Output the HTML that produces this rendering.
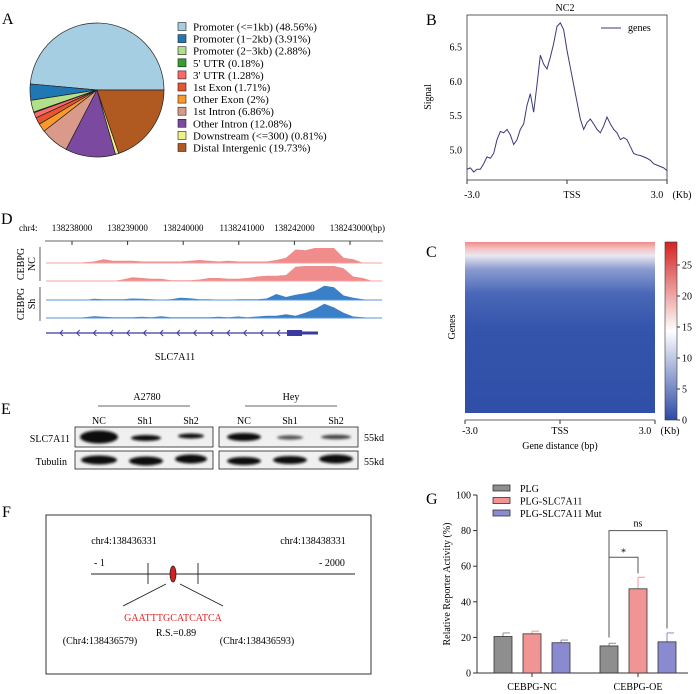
<!DOCTYPE html>
<html><head><meta charset="utf-8"><style>
html,body{margin:0;padding:0;background:#fff;}
svg{display:block;font-family:"Liberation Serif",serif;}
</style></head><body>
<svg id="fig" width="696" height="694" viewBox="0 0 696 694" xmlns="http://www.w3.org/2000/svg">
<defs>
<filter id="blur" x="-20%" y="-50%" width="140%" height="200%"><feGaussianBlur stdDeviation="1.2"/></filter>
<linearGradient id="hm" x1="0" y1="0" x2="0" y2="1">
<stop offset="0" stop-color="#f08a8a"/><stop offset="0.04" stop-color="#f4c4c4"/><stop offset="0.08" stop-color="#e8e8f2"/><stop offset="0.16" stop-color="#8a9bd0"/><stop offset="0.3" stop-color="#4a68b8"/><stop offset="0.5" stop-color="#3554ab"/><stop offset="1" stop-color="#2f4fa8"/>
</linearGradient>
<linearGradient id="cb" x1="0" y1="1" x2="0" y2="0">
<stop offset="0" stop-color="#2c4aa6"/><stop offset="0.5" stop-color="#ffffff"/><stop offset="1" stop-color="#d42222"/>
</linearGradient>
</defs>

<g font-size="16">
<text x="2" y="24">A</text>
<text x="426" y="25">B</text>
<text x="426" y="257">C</text>
<text x="1" y="224">D</text>
<text x="1" y="414">E</text>
<text x="2" y="517">F</text>
<text x="426" y="504">G</text>
</g>

<g id="pie"></g>
<g id="pieLegend" font-size="11"></g>

<g id="lineB">
<text x="565" y="11" font-size="10" text-anchor="middle">NC2</text>
<rect x="467" y="15" width="200" height="165" fill="none" stroke="#333" stroke-width="0.8"/>
<text transform="translate(431,97) rotate(-90)" font-size="10" text-anchor="middle">Signal</text>
<line x1="601" y1="28" x2="621" y2="28" stroke="#3a3a7a" stroke-width="1"/>
<text x="628" y="31" font-size="10">genes</text>
</g>

<g id="heatC">
<rect x="465" y="242" width="190" height="171" fill="url(#hm)"/>
<rect x="665" y="242" width="12" height="178" fill="url(#cb)" stroke="#333" stroke-width="0.6"/>
<text transform="translate(455,327) rotate(-90)" font-size="10" text-anchor="middle">Genes</text>
<line x1="465" y1="420" x2="655" y2="420" stroke="#333" stroke-width="0.8"/>
<line x1="465" y1="420" x2="465" y2="424" stroke="#333"/><line x1="560" y1="420" x2="560" y2="424" stroke="#333"/><line x1="655" y1="420" x2="655" y2="424" stroke="#333"/>
<g font-size="10" text-anchor="middle">
<text x="470" y="434">-3.0</text>
<text x="560" y="434">TSS</text>
<text x="645" y="434">3.0</text>
<text x="670" y="434">(Kb)</text>
<text x="560" y="449">Gene distance (bp)</text>
</g>
<g id="cbTicks" font-size="10"></g>
</g>

<g id="trackD" font-size="10">
<text x="19" y="231" font-size="9">chr4:</text>
<line x1="45" y1="241" x2="383" y2="241" stroke="#333" stroke-width="0.8"/>
<text x="370" y="231" font-size="9">(bp)</text>
<line x1="40" y1="247" x2="40" y2="281" stroke="#333" stroke-width="0.8"/>
<line x1="40" y1="287" x2="40" y2="321" stroke="#333" stroke-width="0.8"/>
<text transform="translate(24,264) rotate(-90)" text-anchor="middle">CEBPG</text>
<text transform="translate(35,264) rotate(-90)" text-anchor="middle">NC</text>
<text transform="translate(24,304) rotate(-90)" text-anchor="middle">CEBPG</text>
<text transform="translate(35,304) rotate(-90)" text-anchor="middle">Sh</text>
<line x1="46" y1="333" x2="318" y2="333" stroke="#3a3aa0" stroke-width="1.2"/>
<rect x="287" y="330" width="15" height="6" fill="#3a3aa0"/>
<rect x="302" y="331.5" width="16" height="3" fill="#3a3aa0"/>
<text x="175" y="360" text-anchor="middle">SLC7A11</text>
<g id="chev" fill="none" stroke="#3a3aa0" stroke-width="1"></g>
</g>

<g id="blotE" font-size="10">
<text x="147" y="400" text-anchor="middle">A2780</text>
<line x1="98" y1="406" x2="190" y2="406" stroke="#333" stroke-width="0.8"/>
<text x="291" y="400" text-anchor="middle">Hey</text>
<line x1="245" y1="406" x2="337" y2="406" stroke="#333" stroke-width="0.8"/>
<g text-anchor="middle">
<text x="99" y="424">NC</text><text x="145" y="424">Sh1</text><text x="191" y="424">Sh2</text>
<text x="244" y="424">NC</text><text x="290" y="424">Sh1</text><text x="336" y="424">Sh2</text>
</g>
<text x="70" y="442" text-anchor="end">SLC7A11</text>
<text x="67" y="465" text-anchor="end">Tubulin</text>
<text x="364" y="441">55kd</text>
<text x="364" y="465">55kd</text>
<rect x="75" y="427" width="138" height="20" fill="#f0f0f0" stroke="#222" stroke-width="0.8"/>
<rect x="219" y="427" width="139" height="20" fill="#f0f0f0" stroke="#222" stroke-width="0.8"/>
<rect x="75" y="451" width="138" height="18" fill="#f0f0f0" stroke="#222" stroke-width="0.8"/>
<rect x="219" y="451" width="139" height="18" fill="#f0f0f0" stroke="#222" stroke-width="0.8"/>
<g filter="url(#blur)" fill="#111">
<ellipse cx="99" cy="437" rx="19" ry="6.5"/><ellipse cx="146" cy="438" rx="15" ry="3"/><ellipse cx="191" cy="436" rx="13" ry="2.5"/>
<ellipse cx="244" cy="437" rx="17" ry="4"/><ellipse cx="290" cy="437.5" rx="13" ry="2.2" fill="#555"/><ellipse cx="336" cy="437" rx="15" ry="2.3" fill="#444"/>
<ellipse cx="99" cy="460" rx="18" ry="4.5"/><ellipse cx="146" cy="461" rx="17" ry="4.5"/><ellipse cx="191" cy="459" rx="16" ry="4.5"/>
<ellipse cx="244" cy="461" rx="17" ry="4"/><ellipse cx="290" cy="460" rx="17" ry="4"/><ellipse cx="336" cy="459" rx="17" ry="4.5"/>
</g>
</g>

<g id="motifF" font-size="10">
<rect x="46" y="515" width="325" height="159" fill="none" stroke="#333" stroke-width="1"/>
<text x="124" y="544" text-anchor="middle">chr4:138436331</text>
<text x="313" y="544" text-anchor="middle">chr4:138438331</text>
<text x="94" y="566">- 1</text>
<text x="319" y="566">- 2000</text>
<line x1="91" y1="574" x2="355" y2="574" stroke="#222" stroke-width="0.9"/>
<line x1="148" y1="563" x2="148" y2="584" stroke="#222" stroke-width="0.9"/>
<line x1="198" y1="563" x2="198" y2="584" stroke="#222" stroke-width="0.9"/>
<ellipse cx="173" cy="574" rx="3" ry="8" fill="#d62020" stroke="#222" stroke-width="0.8"/>
<line x1="166" y1="584" x2="123" y2="606" stroke="#222" stroke-width="0.9"/>
<line x1="180" y1="584" x2="223" y2="606" stroke="#222" stroke-width="0.9"/>
<text x="173" y="621" text-anchor="middle" fill="#e02424">GAATTTGCATCATCA</text>
<text x="176" y="636" text-anchor="middle">R.S.=0.89</text>
<text x="100" y="644" text-anchor="middle">(Chr4:138436579)</text>
<text x="257" y="644" text-anchor="middle">(Chr4:138436593)</text>
</g>

<g id="barG" font-size="10"></g>
</svg>
<script>
const pieLabels = ["Promoter (<=1kb) (48.56%)","Promoter (1\u22122kb) (3.91%)","Promoter (2\u22123kb) (2.88%)","5' UTR (0.18%)","3' UTR (1.28%)","1st Exon (1.71%)","Other Exon (2%)","1st Intron (6.86%)","Other Intron (12.08%)","Downstream (<=300) (0.81%)","Distal Intergenic (19.73%)"];
const pieValues = [48.56,3.91,2.88,0.18,1.28,1.71,2,6.86,12.08,0.81,19.73];
const pieColors = ["#a6cee3","#1f78b4","#b2df8a","#33a02c","#fb6a6a","#e8552f","#fb9a29","#d99a8a","#7b4aa0","#f0f08a","#b05a22"];
const NS = "http://www.w3.org/2000/svg";
function mk(tag, attrs, parent){const e=document.createElementNS(NS,tag);for(const k in attrs)e.setAttribute(k,attrs[k]);parent.appendChild(e);return e;}
(function(){
  const g=document.getElementById('pie'), lg=document.getElementById('pieLegend');
  const cx=97, cy=90, r=67; const tot=pieValues.reduce((a,b)=>a+b,0);
  let a0=0;
  pieValues.forEach((v,i)=>{
    const a1=a0+v/tot*2*Math.PI;
    const x0=cx+r*Math.cos(a0), y0=cy-r*Math.sin(a0), x1=cx+r*Math.cos(a1), y1=cy-r*Math.sin(a1);
    const large=(a1-a0)>Math.PI?1:0;
    const p=mk('path',{d:`M${cx},${cy} L${x0},${y0} A${r},${r} 0 ${large} 0 ${x1},${y1} Z`,fill:pieColors[i],stroke:'#222','stroke-width':0.7},g);
    
    
    a0=a1;
    const y=27+i*12.1;
    const s=mk('rect',{x:178,y:y-4.5,width:8,height:8,fill:pieColors[i],stroke:'#222','stroke-width':0.6},lg);
    
    
    const t=mk('text',{x:193,y:y+3.5},lg); t.textContent=pieLabels[i];
    
    
  });
})();

const profX = [-3.0,-2.9,-2.8,-2.7,-2.6,-2.5,-2.4,-2.3,-2.2,-2.1,-2.0,-1.9,-1.8,-1.7,-1.6,-1.5,-1.4,-1.3,-1.2,-1.1,-1.0,-0.9,-0.8,-0.7,-0.6,-0.5,-0.4,-0.3,-0.2,-0.1,0,0.1,0.2,0.3,0.4,0.5,0.6,0.7,0.8,0.9,1.0,1.1,1.2,1.3,1.4,1.5,1.6,1.7,1.8,1.9,2.0,2.1,2.2,2.3,2.4,2.5,2.6,2.7,2.8,2.9,3.0];
const profY = [4.72,4.74,4.68,4.72,4.72,4.80,4.90,4.88,4.95,5.15,5.27,5.25,5.30,5.22,5.08,5.15,5.30,5.38,5.65,5.82,5.55,5.95,6.38,6.25,6.18,6.35,6.55,6.80,6.85,6.75,6.45,6.20,5.95,5.70,5.45,5.30,5.40,5.45,5.38,5.30,5.25,5.35,5.48,5.38,5.30,5.25,5.15,5.18,5.15,5.05,4.95,4.93,4.92,4.90,4.88,4.85,4.80,4.78,4.76,4.74,4.70];
const profYTicks = [5.0,5.5,6.0,6.5];
const profXTicks = ["-3.0","TSS","3.0"];
(function(){
  const g=document.getElementById('lineB');
  const sx=v=>467+(v+3)/6*200, sy=v=>150-(v-5)*68.7;
  const pts=profX.map((x,i)=>sx(x)+','+sy(profY[i])).join(' ');
  const pl=mk('polyline',{points:pts,fill:'none',stroke:'#3a3a7a','stroke-width':1},g);
  
  
  profYTicks.forEach(v=>{
    const t=mk('text',{x:462,y:sy(v)+3.5,'font-size':10,'text-anchor':'end'},g); t.textContent=v.toFixed(1);
    
    
  });
  profXTicks.forEach((s,i)=>{
    const x=467+i*100;
    mk('line',{x1:x,y1:180,x2:x,y2:184,stroke:'#333'},g);
    const t=mk('text',{x:i==2?x-10:x+5,y:198,'font-size':10,'text-anchor':'middle'},g); t.textContent=s;
    
    
  });
  const u=mk('text',{x:682,y:198,'font-size':10,'text-anchor':'middle'},g); u.textContent='(Kb)';
  
  
})();

const cbTicks = [0,5,10,15,20,25];
(function(){
  const g=document.getElementById('cbTicks');
  cbTicks.forEach(v=>{
    const y=420-v*6.2;
    mk('line',{x1:677,y1:y,x2:680,y2:y,stroke:'#333'},g);
    const t=mk('text',{x:682,y:y+3.5},g); t.textContent=v;
    
    
  });
})();

const genomeTicks = ["138238000","138239000","138240000","1138241000","138242000","138243000"];
const trackNC1 = [0,0,0,0,0.05,0.1,0.25,0.15,0.15,0.15,0.1,0.1,0.1,0.1,0.1,0.15,0.2,0.15,0.1,0.15,0.1,0.1,0.1,0.1,0.2,0.35,0.9,0.85,1,1,1,0.35,0.25,0.02,0,0];
const trackNC2 = [0,0,0,0,0,0,0,0,0.1,0.25,0.2,0.15,0.15,0.05,0.05,0.05,0.1,0.2,0.2,0.15,0.15,0.2,0.3,0.35,0.35,0.4,0.95,1,1,1,1,0.85,0.3,0.2,0,0];
const trackSh1 = [0,0,0,0,0,0.08,0.05,0.05,0.05,0.1,0.08,0.05,0.02,0.05,0.15,0.12,0.05,0.05,0.02,0.02,0.05,0.05,0.05,0.1,0.4,0.2,0.35,0.45,0.6,0.95,0.85,0.3,0.15,0.05,0,0];
const trackSh2 = [0,0,0,0,0.05,0.12,0.08,0.05,0.05,0.05,0.08,0.05,0.12,0.05,0.05,0.05,0.05,0.05,0.08,0.05,0.1,0.05,0.1,0.15,0.15,0.25,0.15,0.35,0.6,0.95,0.7,0.35,0.1,0.05,0,0];
(function(){
  const g=document.getElementById('trackD');
  genomeTicks.forEach((s,i)=>{
    const x=72+i*55.6;
    mk('line',{x1:x,y1:241,x2:x,y2:245,stroke:'#333'},g);
    const t=mk('text',{x:x+(i==3?3:0),y:231,'text-anchor':'middle','font-size':9},g); t.textContent=s;
    
    
  });
  const tracks=[[trackNC1,263,'#f08c8c','#f4a0a0'],[trackNC2,281,'#f08c8c','#f4a0a0'],[trackSh1,300,'#3a80c8','#5a96d4'],[trackSh2,318,'#3a80c8','#5a96d4']];
  tracks.forEach(([arr,base,fill,line],k)=>{
    const step=(382-46)/(arr.length-1);
    let d=`M46,${base}`;
    arr.forEach((v,i)=>{d+=` L${46+i*step},${base-v*15}`;});
    d+=` L382,${base} Z`;
    const p=mk('path',{d:d,fill:fill},g);
    
    
    mk('line',{x1:46,y1:base,x2:382,y2:base,stroke:line,'stroke-width':1},g);
  });
  const ch=document.getElementById('chev');
  for(let i=0;i<14;i++){const x=60+i*16.7;mk('polyline',{points:`${x+3},${330} ${x},${333} ${x+3},${336}`},ch);}
})();

const barGroups = ["CEBPG-NC","CEBPG-OE"];
const barSeries = ["PLG","PLG-SLC7A11","PLG-SLC7A11 Mut"];
const barValues = [[20.5,22,17],[15.2,47.3,17.5]];
const barErrors = [[2,1.5,1.5],[1.5,6.5,5]];
const barYTicks = [0,20,40,60,80,100];
(function(){
  const g=document.getElementById('barG');
  const colors=['#8e8e8e','#f09494','#8a8ad0'];
  const sy=v=>673-v*1.78;
  mk('line',{x1:477,y1:495,x2:477,y2:673,stroke:'#333','stroke-width':1},g);
  mk('line',{x1:477,y1:673,x2:688,y2:673,stroke:'#333','stroke-width':1},g);
  barYTicks.forEach(v=>{
    mk('line',{x1:473,y1:sy(v),x2:477,y2:sy(v),stroke:'#333'},g);
    const t=mk('text',{x:471,y:sy(v)+3.5,'text-anchor':'end'},g); t.textContent=v;
    
    
  });
  const yt=mk('text',{transform:'translate(450,584) rotate(-90)','text-anchor':'middle'},g); yt.textContent='Relative Reporter Activity (%)';
  
  
  const gx=[532,638];
  barGroups.forEach((name,gi)=>{
    mk('line',{x1:gx[gi],y1:673,x2:gx[gi],y2:677,stroke:'#333'},g);
    const t=mk('text',{x:gx[gi],y:690,'text-anchor':'middle'},g); t.textContent=name;
    
    
    barValues[gi].forEach((v,si)=>{
      const cx=gx[gi]+(si-1)*29, w=18;
      const e=barErrors[gi][si];
      mk('line',{x1:cx,y1:sy(v),x2:cx,y2:sy(v+e),stroke:colors[si],'stroke-width':1},g);
      mk('line',{x1:cx,y1:sy(v+e),x2:cx+7,y2:sy(v+e),stroke:colors[si],'stroke-width':1},g);
      const r=mk('rect',{x:cx-w/2,y:sy(v),width:w,height:sy(0)-sy(v),fill:colors[si],stroke:'#333','stroke-width':0.8},g);
      
      
    });
  });
  const b1=gx[1]-29, b2=gx[1], b3=gx[1]+29;
  mk('polyline',{points:`${b1},${sy(20)} ${b1},${sy(65)} ${b2},${sy(65)} ${b2},${sy(56)}`,fill:'none',stroke:'#555'},g);
  mk('polyline',{points:`${b1},${sy(20)} ${b1},${sy(80)} ${b3},${sy(80)} ${b3},${sy(25)}`,fill:'none',stroke:'#555'},g);
  const s1=mk('text',{x:(b1+b2)/2,y:sy(65)-2,'text-anchor':'middle'},g); s1.textContent='*';
  
  
  const s2=mk('text',{x:(b1+b3)/2,y:sy(80)-4,'text-anchor':'middle'},g); s2.textContent='ns';
  
  
  barSeries.forEach((s,i)=>{
    const y=488+i*12.5;
    const r=mk('rect',{x:493,y:y-3,width:17,height:6,fill:colors[i],stroke:'#333','stroke-width':0.8},g);
    
    
    const t=mk('text',{x:520,y:y+4},g); t.textContent=s;
    
    
  });
})();
</script>
</body></html>
